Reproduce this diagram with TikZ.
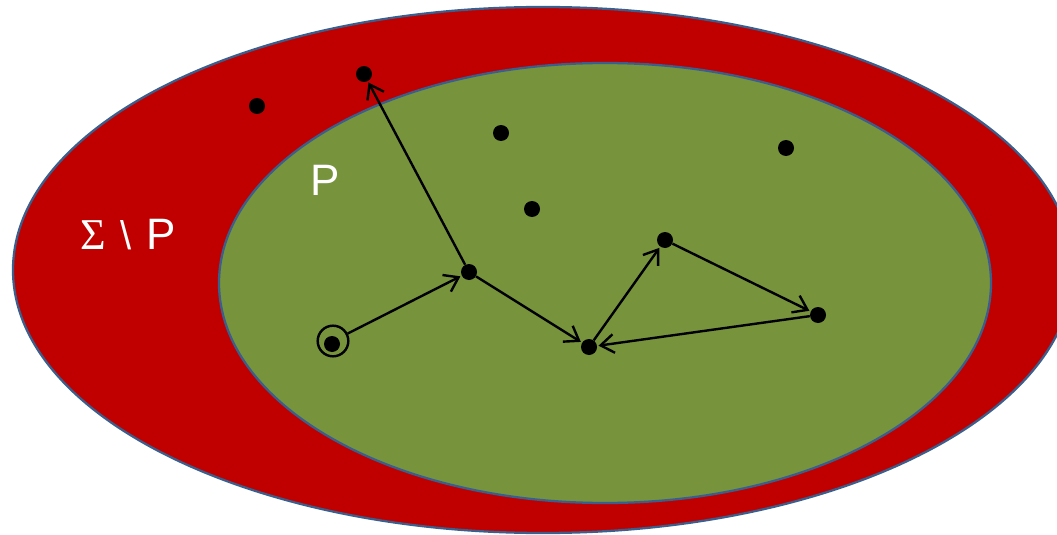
\documentclass[tikz,border=0pt]{standalone}
\usepackage{fontspec}
\setmainfont{Liberation Sans}
\newfontfamily\serifsym{Liberation Serif}
\usetikzlibrary{arrows.meta}
\definecolor{redfill}{HTML}{C00000}
\definecolor{greenfill}{HTML}{77933C}
\definecolor{edge}{HTML}{3A5F8C}
\tikzset{
  dot/.style={circle,fill=black,inner sep=0pt,minimum size=12pt},
  arr/.style={-{Straight Barb[length=10pt,width=14pt,line width=1.8pt]},line width=1.8pt,shorten >=1pt},
  lbl/.style={text=white,font=\fontsize{33}{36}\selectfont,inner sep=0pt}
}
\begin{document}
\begin{tikzpicture}[x=0.75pt,y=-0.75pt]
\useasboundingbox (0,0) rectangle (1057,535);
\begin{scope}
\clip (0,0) rectangle (1057,535);
\fill[redfill,draw=edge,line width=1.7pt] (543,270) ellipse [x radius=530, y radius=263];
\fill[greenfill,draw=edge,line width=1.7pt] (605,283) ellipse [x radius=386, y radius=220];
\end{scope}
\node[lbl] (sp) at (128,235) {{\serifsym Σ}\,\,{\fontsize{30}{33}\selectfont\textbackslash}\,\,P};
\node[lbl] (p) at (325,180) {P};
\node[dot] (a) at (257,106) {};
\node[dot] (b) at (364,74) {};
\node[dot] (c) at (501,133) {};
\node[dot] (d) at (786,148) {};
\node[dot] (e) at (532,209) {};
\node[dot] (f) at (469,272) {};
\node[dot] (g) at (665,240) {};
\node[dot] (h) at (818,315) {};
\node[dot] (i) at (589,347) {};
\node[dot] (s) at (332,344) {};
\node[circle,draw=black,line width=1.8pt,minimum size=23pt,inner sep=0pt] (init) at (333,341) {};
\draw[arr] (init) -- (f);
\draw[arr] (f) -- (b);
\draw[arr] (f) -- (i);
\draw[arr] (i) -- (g);
\draw[arr] (g) -- (h);
\draw[arr] (h) -- (i);
\end{tikzpicture}
\end{document}
